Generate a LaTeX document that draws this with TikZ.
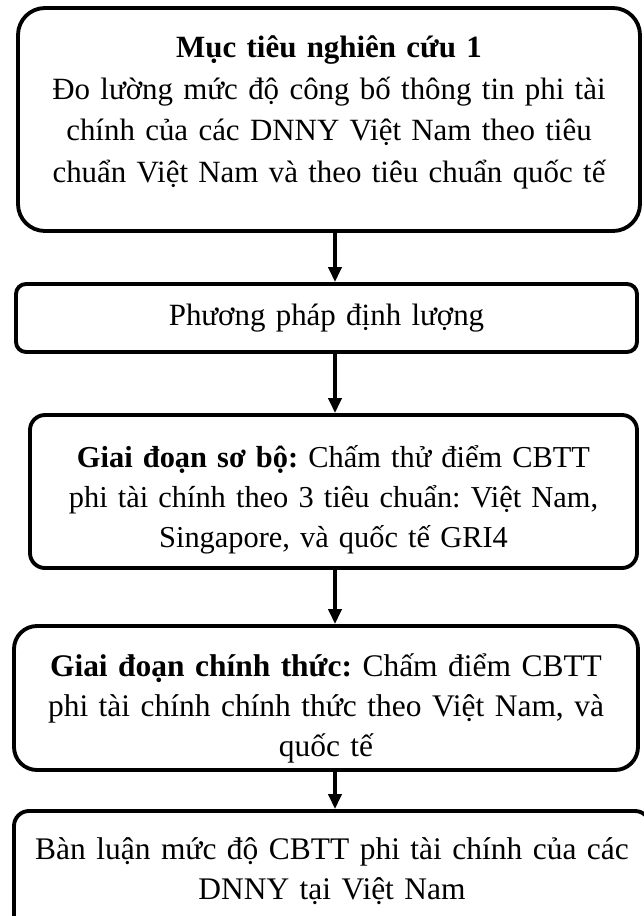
\documentclass[tikz,border=0pt]{standalone}
\usepackage{fontspec}
\setmainfont{Liberation Serif}
\usetikzlibrary{arrows.meta,positioning}
\tikzstyle{stage}=[rectangle, rounded corners=3mm, draw=black, line width=2.2pt,
  fill=white, text width=12.1cm, align=center, minimum width=12.48cm,
  inner sep=0pt, font=\fontsize{17.6}{22.8}\selectfont\frenchspacing]
\tikzstyle{arrow}=[-{Triangle[length=3mm,width=2.6mm]}, line width=2.2pt]

\begin{document}
\begin{tikzpicture}
    \useasboundingbox (0,0) rectangle (12.86,-18.32);

    % research goal and method
    \node[stage, minimum height=4.46cm, minimum width=12.44cm, rounded corners=5.4mm,
      font=\fontsize{17.6}{23.6}\selectfont\frenchspacing] (goal) at (6.58,-2.39)
      {\textbf{Mục tiêu nghiên cứu 1}\\ Đo lường mức độ công bố thông tin phi tài\\
       chính của các DNNY Việt Nam theo tiêu\\ chuẩn Việt Nam và theo tiêu chuẩn quốc tế\rule[-12pt]{0pt}{0pt}};
    \node[stage, minimum height=1.36cm, minimum width=12.42cm, rounded corners=2mm] (method) at (6.53,-6.36)
      {Phương pháp định lượng};

    % two scoring phases
    \node[stage, minimum height=3.06cm, minimum width=12.14cm,
      font=\fontsize{17.3}{22.8}\selectfont\frenchspacing] (pilot) at (6.67,-9.83)
      {\rule{0pt}{22pt}\textbf{Giai đoạn sơ bộ:} Chấm thử điểm CBTT\\ phi tài chính theo 3 tiêu chuẩn: Việt Nam,\\
       Singapore, và quốc tế GRI4};
    \node[stage, minimum height=2.88cm, rounded corners=4.6mm,
      font=\fontsize{17.9}{22.8}\selectfont\frenchspacing] (official) at (6.52,-13.96)
      {\rule{0pt}{25pt}\textbf{Giai đoạn chính thức:} Chấm điểm CBTT\\ phi tài chính chính thức theo Việt Nam, và\\
       quốc tế};

    % discussion
    \node[stage, minimum height=2.4cm, minimum width=12.72cm,
      font=\fontsize{17.9}{22.8}\selectfont\frenchspacing] (talk) at (6.64,-17.42)
      {Bàn luận mức độ CBTT phi tài chính của các\\ DNNY tại Việt Nam};

    \coordinate (axis) at (6.7,0);
    \draw[arrow] (goal.south -| axis) -- (method.north -| axis);
    \draw[arrow] (method.south -| axis) -- (pilot.north -| axis);
    \draw[arrow] (pilot.south -| axis) -- (official.north -| axis);
    \draw[arrow] (official.south -| axis) -- (talk.north -| axis);

  \end{tikzpicture}
\end{document}
